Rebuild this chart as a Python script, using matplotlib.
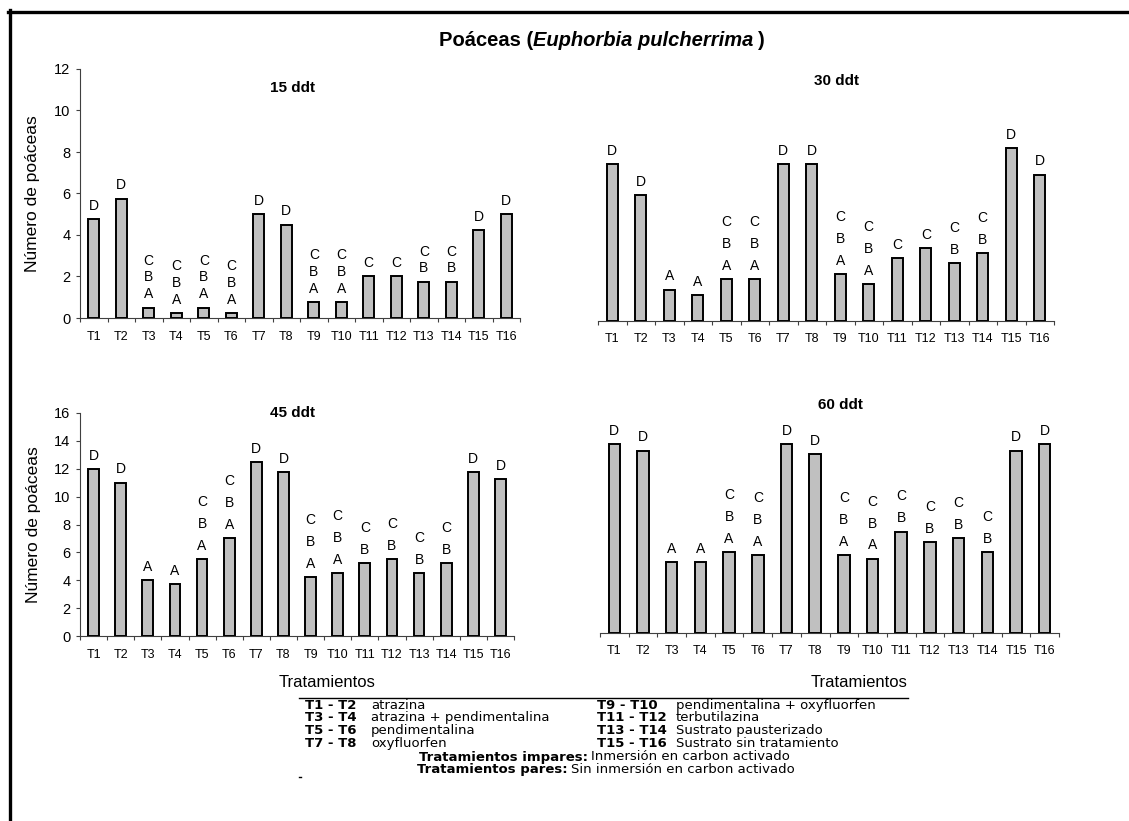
import matplotlib
matplotlib.use("Agg")
import matplotlib.pyplot as plt
from matplotlib.lines import Line2D

plt.rcParams['font.family'] = ['Liberation Sans', 'DejaVu Sans']

# tratamientos y medias de poaceas por fecha
trat = ['T%d' % i for i in range(1, 17)]
ddt15 = [4.75, 5.75, 0.5, 0.25, 0.5, 0.25, 5.0, 4.5, 0.75, 0.75, 2.0, 2.0, 1.75, 1.75, 4.25, 5.0]
ddt30 = [7.5, 6.0, 1.5, 1.25, 2.0, 2.0, 7.5, 7.5, 2.25, 1.75, 3.0, 3.5, 2.75, 3.25, 8.25, 7.0]
ddt45 = [12.0, 11.0, 4.0, 3.75, 5.5, 7.0, 12.5, 11.75, 4.25, 4.5, 5.25, 5.5, 4.5, 5.25, 11.75, 11.25]
ddt60 = [14.0, 13.5, 5.25, 5.25, 6.0, 5.75, 14.0, 13.25, 5.75, 5.5, 7.5, 6.75, 7.0, 6.0, 13.5, 14.0]

# letras de separacion de medias (de abajo hacia arriba)
let15 = ['D', 'D', 'ABC', 'ABC', 'ABC', 'ABC', 'D', 'D', 'ABC', 'ABC', 'C', 'C', 'BC', 'BC', 'D', 'D']
let30 = ['D', 'D', 'A', 'A', 'ABC', 'ABC', 'D', 'D', 'ABC', 'ABC', 'C', 'C', 'BC', 'BC', 'D', 'D']
let45 = ['D', 'D', 'A', 'A', 'ABC', 'ABC', 'D', 'D', 'ABC', 'ABC', 'BC', 'BC', 'BC', 'BC', 'D', 'D']
let60 = ['D', 'D', 'A', 'A', 'ABC', 'ABC', 'D', 'D', 'ABC', 'ABC', 'BC', 'BC', 'BC', 'BC', 'D', 'D']

ley_izq = [('T1 - T2', 'atrazina'), ('T3 - T4', 'atrazina + pendimentalina'),
           ('T5 - T6', 'pendimentalina'), ('T7 - T8', 'oxyfluorfen')]
ley_der = [('T9 - T10', 'pendimentalina + oxyfluorfen'), ('T11 - T12', 'terbutilazina'),
           ('T13 - T14', 'Sustrato pausterizado'), ('T15 - T16', 'Sustrato sin tratamiento')]

W, H = 1129, 821
fig = plt.figure(figsize=(W / 100, H / 100), dpi=100)


def px_axes(x0, y0, x1, y1):
    return fig.add_axes([x0 / W, 1 - y1 / H, (x1 - x0) / W, (y1 - y0) / H])


def panel(ax, vals, letters, ymax, step, show_y, spacing):
    x = list(range(len(trat)))
    ax.bar(x, vals, width=0.4, color='#c0c0c0', edgecolor='black', linewidth=1.4, zorder=3)
    ax.set_xlim(-0.5, len(trat) - 0.5)
    ax.set_ylim(0, ymax)
    ax.set_xticks([i - 0.5 for i in range(len(trat) + 1)])
    ax.set_xticklabels([])
    ax.set_xticks(x, minor=True)
    ax.set_xticklabels(trat, minor=True, fontsize=9)
    ax.tick_params(axis='x', which='major', direction='out', length=3, width=0.8, color='#404040')
    ax.tick_params(axis='x', which='minor', length=0, pad=9)
    for s in ['top', 'right']:
        ax.spines[s].set_visible(False)
    ax.spines['bottom'].set_color('#404040')
    ax.spines['bottom'].set_linewidth(0.8)
    if show_y:
        ax.set_yticks(range(0, ymax + 1, step))
        ax.tick_params(axis='y', direction='out', length=3, width=0.8, color='#404040',
                       labelsize=10.5, pad=4)
        ax.spines['left'].set_color('#404040')
        ax.spines['left'].set_linewidth(0.8)
        ax.set_ylabel('Número de poáceas', fontsize=12.5)
        ax.yaxis.set_label_coords(-0.091, 0.5)
    else:
        ax.spines['left'].set_visible(False)
        ax.set_yticks([])
    for i, (v, lt) in enumerate(zip(vals, letters)):
        for k, ch in enumerate(lt):
            ax.annotate(ch, (i, v), xytext=(0, 9.5 + k * spacing), textcoords='offset points',
                        ha='center', va='center', fontsize=10)
    return ax


ax1 = px_axes(80, 69, 520, 318)
panel(ax1, ddt15, let15, 12, 2, True, 12.2)
ax2 = px_axes(598, 70, 1054, 321)
panel(ax2, ddt30, let30, 12, 2, False, 15.8)
ax3 = px_axes(80, 413, 514, 636)
panel(ax3, ddt45, let45, 16, 2, True, 15.8)
ax4 = px_axes(600, 410, 1059, 633)
panel(ax4, ddt60, let60, 16, 2, False, 15.8)
ax4.set_ylim(0, 16.5)

# titulos de cada panel
for (xp, yp), t in zip([(293, 88), (837, 81), (292, 413), (840, 405)],
                       ['15 ddt', '30 ddt', '45 ddt', '60 ddt']):
    fig.text(xp / W, 1 - yp / H, t, ha='center', va='center', fontsize=11, fontweight='bold')

fig.text(327 / W, 1 - 682 / H, 'Tratamientos', ha='center', va='center', fontsize=12)
fig.text(859 / W, 1 - 682 / H, 'Tratamientos', ha='center', va='center', fontsize=12)

renderer = fig.canvas.get_renderer()


def rich(xc, y, pieces, gaps):
    texts = []
    for s, kw in pieces:
        texts.append(fig.text(0, 1 - y / H, s, va='center', **kw))
    widths = [t.get_window_extent(renderer).width for t in texts]
    x0 = xc - (sum(widths) + sum(gaps)) / 2
    for t, w, g in zip(texts, widths, gaps):
        x0 += g
        t.set_x(x0 / W)
        x0 += w


# titulo general
rich(602, 41, [('Poáceas (', dict(fontsize=14.5, fontweight='bold')),
               ('Euphorbia pulcherrima', dict(fontsize=14.5, fontweight='bold', style='italic')),
               (')', dict(fontsize=14.5, fontweight='bold'))], [0, 0, 5])

# leyenda de tratamientos
lf = dict(fontsize=9.5, family='DejaVu Sans')
fig.add_artist(Line2D([299 / W, 908 / W], [1 - 698 / H, 1 - 698 / H], color='black', lw=1.0))
fig.add_artist(Line2D([299 / W, 301 / W], [1 - 777 / H, 1 - 777 / H], color='black', lw=1.0))
for j, ((a, b), (c, d)) in enumerate(zip(ley_izq, ley_der)):
    yy = 705 + j * 12.7
    fig.text(305 / W, 1 - yy / H, a, va='center', fontweight='bold', **lf)
    fig.text(371 / W, 1 - yy / H, b, va='center', **lf)
    fig.text(597 / W, 1 - yy / H, c, va='center', fontweight='bold', **lf)
    fig.text(676 / W, 1 - yy / H, d, va='center', **lf)
rich(604, 757, [('Tratamientos impares:', dict(fontweight='bold', **lf)),
                ('Inmersión en carbon activado', lf)], [0, 3])
rich(606, 769.5, [('Tratamientos pares:', dict(fontweight='bold', **lf)),
                  ('Sin inmersión en carbon activado', lf)], [0, 3])

# marco exterior
fig.add_artist(Line2D([10 / W, 10 / W], [0, 1 - 10 / H], color='black', lw=2.4))
fig.add_artist(Line2D([8 / W, 1], [1 - 12 / H, 1 - 12 / H], color='black', lw=2.4))

fig.savefig('out.png', dpi=100)
